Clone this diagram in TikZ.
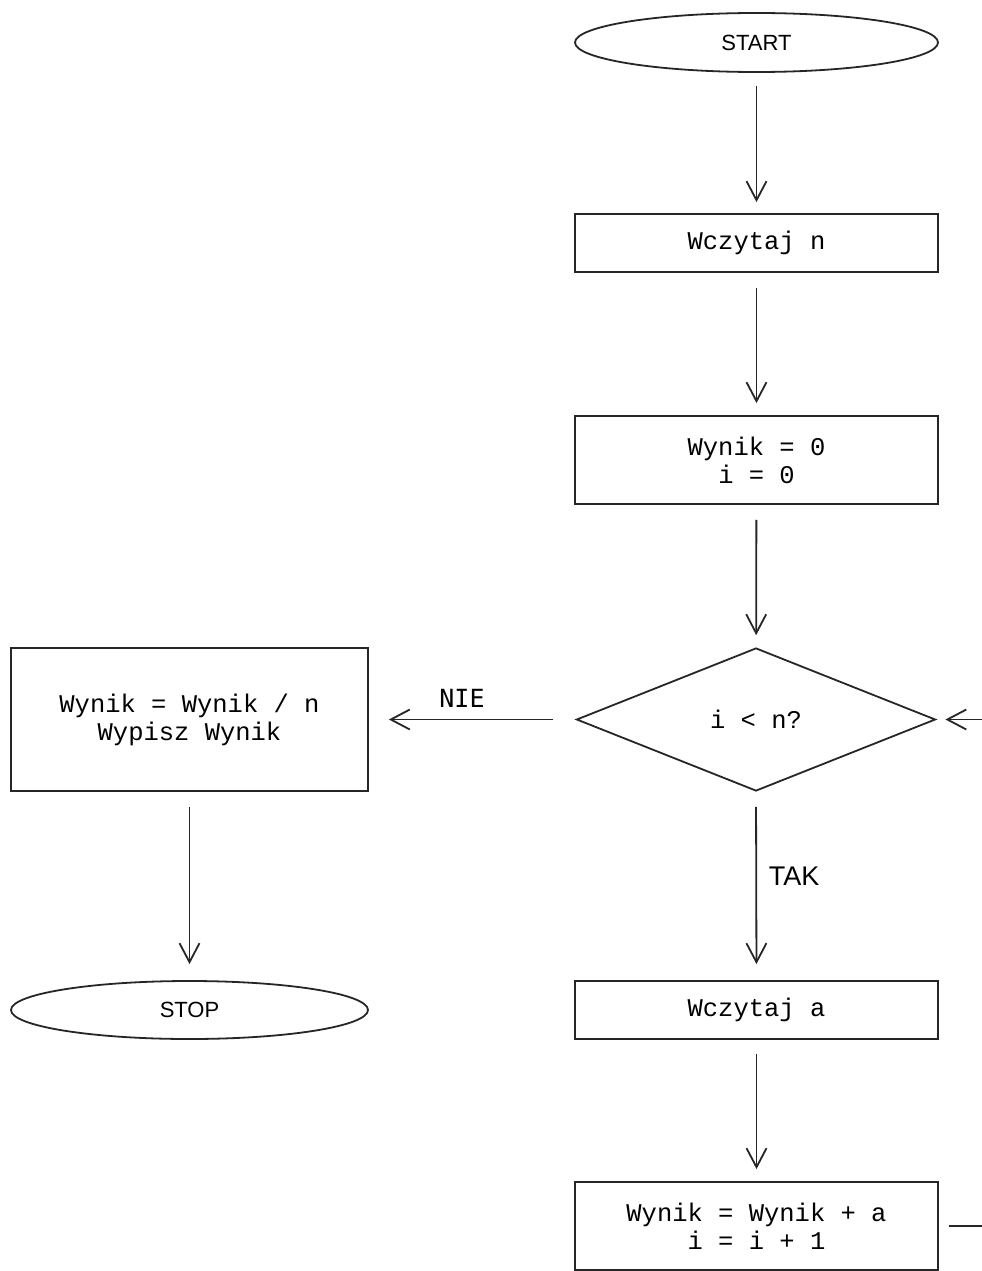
\documentclass[tikz,border=0pt]{standalone}
\usepackage{fontspec}
\setmainfont{Liberation Mono}
\newfontfamily\sansf{Liberation Sans}
\newfontfamily\dmono{DejaVu Sans Mono}
\usetikzlibrary{shapes.geometric,arrows.meta}
\tikzset{
  ln/.style={line width=1.8pt, draw=black!85},
  boxnode/.style={rectangle, ln, inner sep=0pt, minimum width=363pt, align=center,
    font=\fontsize{25.5}{28}\selectfont},
  ovalnode/.style={ellipse, ln, inner sep=0pt, minimum width=363pt, minimum height=59pt,
    font=\sansf\fontsize{22}{26}\selectfont},
  decnode/.style={diamond, ln, inner sep=0pt, minimum width=359pt, minimum height=143pt,
    font=\fontsize{25.5}{28}\selectfont},
  arr/.style={ln, -{Straight Barb[length=19pt,width=20pt,line width=1.8pt]}},
  lbl/.style={inner sep=0pt}
}
\begin{document}
\begin{tikzpicture}[x=1pt,y=-1pt]
\useasboundingbox[fill=white] (0,0) rectangle (982,1271);
\node[ovalnode] (start) at (756.5,42.5) {START};
\node[boxnode, minimum height=58pt] (read) at (756.5,243) {Wczytaj n};
\node[boxnode, minimum height=88pt] (init) at (756.5,460) {Wynik = 0\\i = 0};
\node[decnode] (dec) at (756,719.5) {i < n?};
\node[boxnode, minimum width=357pt, minimum height=143pt] (out) at (189.5,719.5) {Wynik = Wynik / n\\Wypisz Wynik};
\node[ovalnode, minimum width=357pt, minimum height=58pt] (stop) at (189.5,1010) {STOP};
\node[boxnode, minimum height=58pt] (reada) at (756.5,1010) {Wczytaj a};
\node[boxnode, minimum height=88pt] (upd) at (756.5,1226) {Wynik = Wynik + a\\i = i + 1};
\coordinate (loopin) at (982,719.5);
\coordinate (loopout) at (982,1226);

\draw[arr, shorten <=13pt, shorten >=11pt] (start) -- (read);
\draw[arr, shorten <=15pt, shorten >=12pt] (read) -- (init);
\draw[arr, shorten <=15pt, shorten >=12pt] (init) -- (dec);
\draw[arr, shorten <=23pt, shorten >=20pt] (dec.west) -- (out.east);
\draw[arr, shorten <=15pt, shorten >=16pt] (dec.south) -- (reada.north);
\draw[arr, shorten <=15pt, shorten >=16pt] (out.south) -- (stop.north);
\draw[arr, shorten <=14pt, shorten >=12pt] (reada) -- (upd);
\draw[ln, shorten <=10pt] (upd.east) -- (loopout);
\draw[arr, shorten >=9pt] (loopin) -- (dec.east);

\node[lbl, font=\dmono\fontsize{25}{28}\selectfont] (nie) at (462,698) {NIE};
\node[lbl, font=\sansf\fontsize{27}{30}\selectfont] (tak) at (794,876) {TAK};
\end{tikzpicture}
\end{document}
